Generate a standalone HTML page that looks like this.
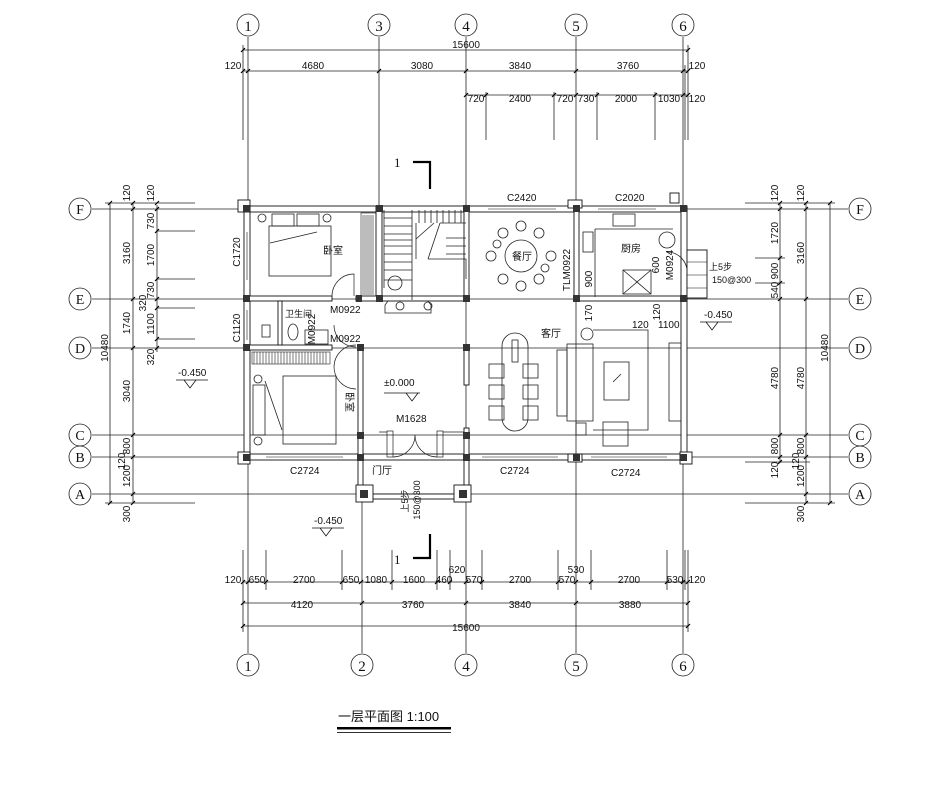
<!DOCTYPE html>
<html><head><meta charset="utf-8"><style>
html,body{margin:0;padding:0;background:#fff;}
svg{display:block;}
text{font-family:"Liberation Sans Narrow","Liberation Sans","Noto Sans CJK SC",sans-serif;font-size:10px;fill:#111;}
.t{font-size:10px;}
</style></head><body>
<svg width="944" height="802" viewBox="0 0 944 802" xmlns="http://www.w3.org/2000/svg">
<g stroke="#222" stroke-width="0.8" fill="none">
<line x1="248" y1="37" x2="248" y2="653"/>
<line x1="379" y1="37" x2="379" y2="205"/>
<line x1="466" y1="37" x2="466" y2="653"/>
<line x1="576" y1="37" x2="576" y2="653"/>
<line x1="683" y1="37" x2="683" y2="653"/>
<line x1="362" y1="465" x2="362" y2="653"/>
<line x1="92" y1="209" x2="848" y2="209"/>
<line x1="92" y1="299" x2="848" y2="299"/>
<line x1="92" y1="348" x2="848" y2="348"/>
<line x1="92" y1="435" x2="848" y2="435"/>
<line x1="92" y1="457" x2="848" y2="457"/>
<line x1="92" y1="494" x2="848" y2="494"/>
<circle cx="248" cy="25" r="11"/><circle cx="379" cy="25" r="11"/><circle cx="466" cy="25" r="11"/><circle cx="576" cy="25" r="11"/><circle cx="683" cy="25" r="11"/>
<circle cx="248" cy="665" r="11"/><circle cx="362" cy="665" r="11"/><circle cx="466" cy="665" r="11"/><circle cx="576" cy="665" r="11"/><circle cx="683" cy="665" r="11"/>
<circle cx="80" cy="209" r="11"/><circle cx="80" cy="299" r="11"/><circle cx="80" cy="348" r="11"/><circle cx="80" cy="435" r="11"/><circle cx="80" cy="457" r="11"/><circle cx="80" cy="494" r="11"/>
<circle cx="860" cy="209" r="11"/><circle cx="860" cy="299" r="11"/><circle cx="860" cy="348" r="11"/><circle cx="860" cy="435" r="11"/><circle cx="860" cy="457" r="11"/><circle cx="860" cy="494" r="11"/>
<line x1="243" y1="50" x2="688" y2="50"/>
<line x1="243" y1="71" x2="688" y2="71"/>
<line x1="466" y1="95" x2="688" y2="95"/>
<line x1="243" y1="45" x2="243" y2="140"/><line x1="688" y1="45" x2="688" y2="140"/><line x1="685" y1="65" x2="685" y2="140"/>
<line x1="486" y1="92" x2="486" y2="140"/><line x1="554" y1="92" x2="554" y2="140"/><line x1="597" y1="92" x2="597" y2="140"/><line x1="655" y1="92" x2="655" y2="140"/>
<line x1="243" y1="582" x2="688" y2="582"/>
<line x1="243" y1="603" x2="688" y2="603"/>
<line x1="243" y1="626" x2="688" y2="626"/>
<line x1="243" y1="550" x2="243" y2="632"/><line x1="688" y1="550" x2="688" y2="632"/><line x1="685" y1="550" x2="685" y2="590"/>
<line x1="266" y1="550" x2="266" y2="590"/><line x1="342" y1="550" x2="342" y2="590"/><line x1="392" y1="550" x2="392" y2="590"/><line x1="437" y1="550" x2="437" y2="590"/><line x1="450" y1="550" x2="450" y2="590"/><line x1="482" y1="550" x2="482" y2="590"/><line x1="558" y1="550" x2="558" y2="590"/><line x1="591" y1="550" x2="591" y2="590"/><line x1="667" y1="550" x2="667" y2="590"/>
<line x1="110" y1="203" x2="110" y2="503"/>
<line x1="133" y1="203" x2="133" y2="503"/>
<line x1="157" y1="205" x2="157" y2="352"/>
<line x1="105" y1="203" x2="195" y2="203"/><line x1="105" y1="503" x2="195" y2="503"/>
<line x1="157" y1="231" x2="195" y2="231"/><line x1="157" y1="279" x2="195" y2="279"/><line x1="157" y1="308" x2="195" y2="308"/><line x1="157" y1="339" x2="195" y2="339"/>
<line x1="780" y1="203" x2="780" y2="463"/>
<line x1="806" y1="203" x2="806" y2="503"/>
<line x1="830" y1="203" x2="830" y2="503"/>
<line x1="745" y1="203" x2="835" y2="203"/><line x1="745" y1="503" x2="835" y2="503"/>
<line x1="755" y1="258" x2="785" y2="258"/><line x1="755" y1="283" x2="785" y2="283"/><line x1="745" y1="462" x2="810" y2="462"/>
</g>
<g stroke="#000" stroke-width="1.2">
<path d="M241 52l4-4M686 52l4-4
M241 73l4-4M246 73l4-4M377 73l4-4M464 73l4-4M574 73l4-4M681 73l4-4M686 73l4-4
M464 97l4-4M484 97l4-4M552 97l4-4M574 97l4-4M595 97l4-4M653 97l4-4M681 97l4-4M686 97l4-4
M241 584l4-4M246 584l4-4M264 584l4-4M340 584l4-4M359 584l4-4M390 584l4-4M435 584l4-4M448 584l4-4M464 584l4-4M480 584l4-4M556 584l4-4M574 584l4-4M589 584l4-4M665 584l4-4M681 584l4-4M686 584l4-4
M241 605l4-4M360 605l4-4M464 605l4-4M574 605l4-4M686 605l4-4
M241 628l4-4M686 628l4-4
M108 205l4-4M108 505l4-4
M131 205l4-4M131 211l4-4M131 301l4-4M131 350l4-4M131 437l4-4M131 459l4-4M131 496l4-4M131 505l4-4
M155 205l4-4M155 211l4-4M155 233l4-4M155 281l4-4M155 301l4-4M155 310l4-4M155 341l4-4M155 350l4-4
M778 205l4-4M778 211l4-4M778 260l4-4M778 285l4-4M778 301l4-4M778 437l4-4M778 459l4-4M778 464l4-4
M804 205l4-4M804 211l4-4M804 301l4-4M804 437l4-4M804 459l4-4M804 496l4-4M804 505l4-4
M828 205l4-4M828 505l4-4"/>
</g>
<g class="t" text-anchor="middle">
<text x="466" y="48">15600</text>
<text x="233" y="69">120</text><text x="313" y="69">4680</text><text x="422" y="69">3080</text><text x="520" y="69">3840</text><text x="628" y="69">3760</text><text x="697" y="69">120</text>
<text x="476" y="102">720</text><text x="520" y="102">2400</text><text x="565" y="102">720</text><text x="586" y="102">730</text><text x="626" y="102">2000</text><text x="669" y="102">1030</text><text x="697" y="102">120</text>
<text x="233" y="583">120</text><text x="257" y="583">650</text><text x="304" y="583">2700</text><text x="351" y="583">650</text><text x="376" y="583">1080</text><text x="414" y="583">1600</text><text x="444" y="583">460</text><text x="457" y="573">620</text><text x="474" y="583">570</text><text x="520" y="583">2700</text><text x="567" y="583">570</text><text x="576" y="573">530</text><text x="629" y="583">2700</text><text x="675" y="583">530</text><text x="697" y="583">120</text>
<text x="302" y="608">4120</text><text x="413" y="608">3760</text><text x="520" y="608">3840</text><text x="630" y="608">3880</text>
<text x="466" y="631">15600</text>
</g>
<g class="t" text-anchor="middle">
<text transform="translate(108,348) rotate(-90)">10480</text>
<text transform="translate(130,193) rotate(-90)">120</text><text transform="translate(130,253) rotate(-90)">3160</text><text transform="translate(130,323) rotate(-90)">1740</text><text transform="translate(130,391) rotate(-90)">3040</text><text transform="translate(130,446) rotate(-90)">800</text><text transform="translate(125,461) rotate(-90)">120</text><text transform="translate(130,476) rotate(-90)">1200</text><text transform="translate(130,514) rotate(-90)">300</text>
<text transform="translate(154,193) rotate(-90)">120</text><text transform="translate(154,221) rotate(-90)">730</text><text transform="translate(154,255) rotate(-90)">1700</text><text transform="translate(154,290) rotate(-90)">730</text><text transform="translate(146,303) rotate(-90)">320</text><text transform="translate(154,324) rotate(-90)">1100</text><text transform="translate(154,357) rotate(-90)">320</text>
<text transform="translate(778,193) rotate(-90)">120</text><text transform="translate(778,233) rotate(-90)">1720</text><text transform="translate(778,271) rotate(-90)">900</text><text transform="translate(778,290) rotate(-90)">540</text><text transform="translate(778,378) rotate(-90)">4780</text><text transform="translate(778,446) rotate(-90)">800</text><text transform="translate(778,470) rotate(-90)">120</text>
<text transform="translate(804,193) rotate(-90)">120</text><text transform="translate(804,253) rotate(-90)">3160</text><text transform="translate(804,378) rotate(-90)">4780</text><text transform="translate(804,446) rotate(-90)">800</text><text transform="translate(799,461) rotate(-90)">120</text><text transform="translate(804,476) rotate(-90)">1200</text><text transform="translate(804,514) rotate(-90)">300</text>
<text transform="translate(828,348) rotate(-90)">10480</text>
</g>
<g text-anchor="middle">
<text x="248" y="31" style="font-family:'Liberation Serif',serif;font-size:15px">1</text><text x="379" y="31" style="font-family:'Liberation Serif',serif;font-size:15px">3</text><text x="466" y="31" style="font-family:'Liberation Serif',serif;font-size:15px">4</text><text x="576" y="31" style="font-family:'Liberation Serif',serif;font-size:15px">5</text><text x="683" y="31" style="font-family:'Liberation Serif',serif;font-size:15px">6</text>
<text x="248" y="671" style="font-family:'Liberation Serif',serif;font-size:15px">1</text><text x="362" y="671" style="font-family:'Liberation Serif',serif;font-size:15px">2</text><text x="466" y="671" style="font-family:'Liberation Serif',serif;font-size:15px">4</text><text x="576" y="671" style="font-family:'Liberation Serif',serif;font-size:15px">5</text><text x="683" y="671" style="font-family:'Liberation Serif',serif;font-size:15px">6</text>
<text x="80" y="214" style="font-family:'Liberation Serif',serif;font-size:14px">F</text><text x="80" y="304" style="font-family:'Liberation Serif',serif;font-size:14px">E</text><text x="80" y="353" style="font-family:'Liberation Serif',serif;font-size:14px">D</text><text x="80" y="440" style="font-family:'Liberation Serif',serif;font-size:14px">C</text><text x="80" y="462" style="font-family:'Liberation Serif',serif;font-size:14px">B</text><text x="80" y="499" style="font-family:'Liberation Serif',serif;font-size:14px">A</text>
<text x="860" y="214" style="font-family:'Liberation Serif',serif;font-size:14px">F</text><text x="860" y="304" style="font-family:'Liberation Serif',serif;font-size:14px">E</text><text x="860" y="353" style="font-family:'Liberation Serif',serif;font-size:14px">D</text><text x="860" y="440" style="font-family:'Liberation Serif',serif;font-size:14px">C</text><text x="860" y="462" style="font-family:'Liberation Serif',serif;font-size:14px">B</text><text x="860" y="499" style="font-family:'Liberation Serif',serif;font-size:14px">A</text>
</g>
<g stroke="#000" stroke-width="2.2" fill="none">
<path d="M413 162H430V189"/><path d="M430 534V558H413"/>
</g>
<text x="394" y="167" style="font-family:'Liberation Serif',serif;font-size:13px">1</text>
<text x="394" y="564" style="font-family:'Liberation Serif',serif;font-size:13px">1</text>
<g stroke="#111" stroke-width="0.9" fill="#fff">
<rect x="244" y="206" width="443" height="6"/>
<rect x="244" y="454" width="443" height="6"/>
<rect x="244" y="206" width="6" height="254"/>
<rect x="681" y="206" width="6" height="254"/>
<rect x="376" y="206" width="6" height="95"/>
<rect x="464" y="206" width="5" height="95"/>
<rect x="574" y="206" width="5" height="95"/>
<rect x="244" y="296" width="88" height="5"/>
<rect x="356" y="296" width="113" height="5"/>
<rect x="574" y="296" width="113" height="5"/>
<rect x="244" y="345" width="88" height="5"/>
<rect x="278" y="301" width="4" height="44"/>
<rect x="358" y="345" width="5" height="115"/>
<rect x="464" y="345" width="5" height="40"/>
<rect x="464" y="428" width="5" height="32"/>
<rect x="358" y="460" width="5" height="40"/>
<rect x="464" y="460" width="5" height="40"/>
<rect x="358" y="494" width="111" height="5"/>
<rect x="238" y="200" width="12" height="12"/><rect x="238" y="452" width="12" height="12"/><rect x="680" y="452" width="12" height="12"/><rect x="568" y="200" width="14" height="8"/><rect x="568" y="454" width="14" height="8"/><rect x="670" y="193" width="9" height="10"/>
<rect x="356" y="485" width="17" height="17"/><rect x="454" y="485" width="17" height="17"/>
<rect x="687" y="250" width="20" height="48"/>
</g>
<g stroke="#111" stroke-width="0.6">
<line x1="488" y1="209" x2="556" y2="209"/><line x1="598" y1="209" x2="656" y2="209"/>
<line x1="247" y1="232" x2="247" y2="280"/><line x1="247" y1="310" x2="247" y2="340"/>
<line x1="266" y1="457" x2="343" y2="457"/><line x1="482" y1="457" x2="558" y2="457"/><line x1="591" y1="457" x2="667" y2="457"/>
<line x1="707" y1="262" x2="687" y2="262"/><line x1="707" y1="275" x2="687" y2="275"/><line x1="707" y1="288" x2="687" y2="288"/>
</g>
<g fill="#333">
<rect x="243" y="205" width="7" height="7"/><rect x="376" y="205" width="7" height="7"/><rect x="463" y="205" width="7" height="7"/><rect x="573" y="205" width="7" height="7"/><rect x="680" y="205" width="7" height="7"/>
<rect x="243" y="295" width="7" height="7"/><rect x="356" y="295" width="6" height="7"/><rect x="376" y="295" width="7" height="7"/><rect x="463" y="295" width="7" height="7"/><rect x="573" y="295" width="7" height="7"/><rect x="680" y="295" width="7" height="7"/>
<rect x="243" y="344" width="7" height="7"/><rect x="357" y="344" width="7" height="7"/><rect x="463" y="344" width="7" height="7"/>
<rect x="357" y="432" width="7" height="7"/><rect x="463" y="432" width="7" height="7"/>
<rect x="243" y="454" width="7" height="7"/><rect x="357" y="454" width="7" height="7"/><rect x="463" y="454" width="7" height="7"/><rect x="573" y="454" width="7" height="7"/><rect x="680" y="454" width="7" height="7"/>
<rect x="360" y="490" width="8" height="8"/><rect x="459" y="490" width="8" height="8"/>
</g>
<g stroke="#222" stroke-width="0.6">
<rect x="361" y="213" width="15" height="83" fill="none"/>
<path d="M363 215v80M365 215v80M367 215v80M369 215v80M371 215v80M373 215v80"/>
<rect x="252" y="352" width="78" height="12" fill="none"/>
<path d="M254 352v12M257 352v12M260 352v12M263 352v12M266 352v12M269 352v12M272 352v12M275 352v12M278 352v12M281 352v12M284 352v12M287 352v12M290 352v12M293 352v12M296 352v12M299 352v12M302 352v12M305 352v12M308 352v12M311 352v12M314 352v12M317 352v12M320 352v12M323 352v12M326 352v12"/>
</g>
<g stroke="#222" stroke-width="0.8" fill="none">
<rect x="269" y="226" width="62" height="50"/><rect x="272" y="214" width="22" height="12"/><rect x="297" y="214" width="22" height="12"/>
<path d="M270 243L317 232"/>
<circle cx="262" cy="218" r="4"/><circle cx="327" cy="218" r="4"/>
<rect x="283" y="376" width="53" height="68"/><rect x="253" y="385" width="12" height="50"/>
<path d="M265 381L282 430"/>
<circle cx="258" cy="379" r="4"/><circle cx="258" cy="441" r="4"/>
<rect x="262" y="325" width="8" height="12"/><ellipse cx="293" cy="332" rx="5" ry="8"/><rect x="305" y="330" width="23" height="14"/>
<path d="M384 210v78M384 240h28M412 210v90M416 223v36M440 223h26M428 259h38v20"/>
<path d="M384 218h28M384 226h28M384 234h28M384 246h28M384 254h28M384 262h28M384 270h28M384 280h28"/>
<path d="M419 210v13M425 210v13M431 210v13M437 210v13M443 210v13M449 210v13M455 210v13M461 210v13"/>
<path d="M440 223l-12 36M434 223l-18 16M446 238h20M446 246h20M446 254h20"/>
<circle cx="395" cy="283" r="7"/>
<path d="M388 301h40l3 4v8h-46v-8z"/><circle cx="400" cy="306" r="4"/><circle cx="428" cy="306" r="4"/>
<circle cx="521" cy="256" r="16"/>
<circle cx="521" cy="226" r="5"/><circle cx="521" cy="286" r="5"/><circle cx="491" cy="256" r="5"/><circle cx="551" cy="256" r="5"/>
<circle cx="503" cy="233" r="5"/><circle cx="539" cy="233" r="5"/><circle cx="503" cy="279" r="5"/><circle cx="539" cy="279" r="5"/>
<circle cx="497" cy="244" r="4"/><circle cx="545" cy="268" r="4"/>
<path d="M595 229h78M595 229v68"/><rect x="613" y="214" width="22" height="12"/><rect x="583" y="232" width="10" height="20"/><circle cx="667" cy="240" r="8"/>
<rect x="623" y="270" width="28" height="24"/><path d="M623 270l28 24M651 270l-28 24"/>
<path d="M687 274a20 20 0 0 0 -20 -22"/>
<rect x="502" y="333" width="26" height="98" rx="13"/><rect x="512" y="340" width="6" height="22"/>
<rect x="489" y="364" width="15" height="14"/><rect x="489" y="385" width="15" height="14"/><rect x="489" y="406" width="15" height="14"/>
<rect x="523" y="364" width="15" height="14"/><rect x="523" y="385" width="15" height="14"/><rect x="523" y="406" width="15" height="14"/>
<rect x="567" y="344" width="26" height="77"/><rect x="557" y="350" width="10" height="66"/>
<rect x="604" y="362" width="25" height="38"/><path d="M613 382l8 -8"/>
<circle cx="587" cy="334" r="6"/><rect x="576" y="423" width="10" height="12"/><rect x="603" y="422" width="25" height="24"/>
<path d="M593 330h55v100h-55"/>
<rect x="669" y="343" width="12" height="78"/>
</g>
<g stroke="#222" stroke-width="0.7" fill="none">
<path d="M332 296a22 22 0 0 1 22 -22v22"/>
<path d="M356 347a22 22 0 0 1 -22 -22"/>
<path d="M356 345a22 22 0 0 0 0 44"/>
<path d="M393 457a22 22 0 0 0 22 -22h0M437 457a22 22 0 0 1 -22 -22"/>
<rect x="387" y="431" width="6" height="26"/><rect x="437" y="431" width="6" height="26"/>
<path d="M379 432h8M443 432h21"/>
</g>
<g stroke="#111" stroke-width="0.8" fill="none">
<path d="M176 380h32M184 380l6 8 6 -8"/>
<path d="M700 322h32M706 322l6 8 6 -8"/>
<path d="M312 528h32M320 528l6 8 6 -8"/>
<path d="M384 393h36M406 393l6 8 6 -8"/>
</g>
<g style="font-size:10px">
<text x="323" y="254">卧室</text>
<text transform="translate(346,392) rotate(90)">卧室</text>
<text x="285" y="317" style="font-size:9px">卫生间</text>
<text x="512" y="260">餐厅</text>
<text x="621" y="252">厨房</text>
<text x="541" y="337">客厅</text>
<text x="372" y="474">门厅</text>
<text x="384" y="386">±0.000</text>
<text x="396" y="422">M1628</text>
<text x="290" y="474">C2724</text><text x="500" y="474">C2724</text><text x="611" y="476">C2724</text>
<text x="507" y="201">C2420</text><text x="615" y="201">C2020</text>
<text x="330" y="313">M0922</text><text x="330" y="342">M0922</text>
<text x="178" y="376">-0.450</text><text x="704" y="318">-0.450</text><text x="314" y="524">-0.450</text>
<text x="709" y="270" style="font-size:9px">上5步</text><text x="712" y="283" style="font-size:9px">150@300</text>
<text x="632" y="328">120</text><text x="658" y="328">1100</text>
</g>
<g style="font-size:10px" text-anchor="middle">
<text transform="translate(240,252) rotate(-90)">C1720</text>
<text transform="translate(240,328) rotate(-90)">C1120</text>
<text transform="translate(570,270) rotate(-90)">TLM0922</text>
<text transform="translate(592,279) rotate(-90)">900</text>
<text transform="translate(592,313) rotate(-90)">170</text>
<text transform="translate(659,265) rotate(-90)">600</text>
<text transform="translate(673,265) rotate(-90)">M0924</text>
<text transform="translate(660,312) rotate(-90)">120</text>
<text transform="translate(315,329) rotate(-90)">M0922</text>
<text transform="translate(408,501) rotate(-90)" style="font-size:9px">上5步</text>
<text transform="translate(420,500) rotate(-90)" style="font-size:9px">150@300</text>
</g>
<text x="338" y="721" style="font-size:13px">一层平面图 1:100</text>
<rect x="337" y="727" width="114" height="2.5" fill="#000"/>
<rect x="337" y="732" width="114" height="0.8" fill="#000"/>
</svg>
</body></html>
